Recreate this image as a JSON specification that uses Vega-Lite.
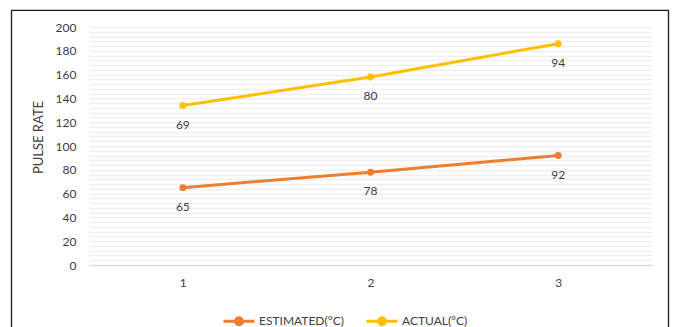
{
  "$schema": "https://vega.github.io/schema/vega-lite/v6.json",
  "width": 563,
  "height": 238,
  "autosize": {"type": "none"},
  "padding": {"left": 89, "top": 27, "right": 25, "bottom": 62},
  "background": "white",
  "config": {
    "view": {"stroke": null},
    "font": "Lato",
    "text": {"font": "Lato"}
  },
  "data": {
    "values": [
      {"reading": 1, "series": "ESTIMATED(°C)", "value": 65},
      {"reading": 2, "series": "ESTIMATED(°C)", "value": 78},
      {"reading": 3, "series": "ESTIMATED(°C)", "value": 92},
      {"reading": 1, "series": "ACTUAL(°C)", "value": 69},
      {"reading": 2, "series": "ACTUAL(°C)", "value": 80},
      {"reading": 3, "series": "ACTUAL(°C)", "value": 94}
    ]
  },
  "layer": [
    {
      "data": {"values": [{}]},
      "mark": {"type": "rect", "fill": null, "stroke": "#1a1a1a", "strokeWidth": 1.3, "clip": false},
      "encoding": {
        "x": {"datum": 0.087, "type": "quantitative", "scale": {"domain": [0.5, 3.5], "zero": false, "nice": false}},
        "x2": {"datum": 3.588},
        "y": {"datum": 213.9, "type": "quantitative", "scale": {"domain": [0, 200], "nice": false}},
        "y2": {"datum": -60}
      }
    },
    {
      "mark": {"type": "line", "strokeWidth": 3, "point": {"filled": true, "size": 48}},
      "encoding": {
        "x": {
          "field": "reading",
          "type": "quantitative",
          "scale": {"domain": [0.5, 3.5], "zero": false, "nice": false},
          "axis": {
            "values": [1, 2, 3],
            "tickCount": 3,
            "format": "d",
            "title": null,
            "grid": false,
            "ticks": false,
            "domain": true,
            "domainColor": "#d9d9d9",
            "domainWidth": 1,
            "labelPadding": 12,
            "labelFont": "Lato",
            "labelFontSize": 12,
            "labelColor": "#404040"
          }
        },
        "y": {
          "field": "value",
          "type": "quantitative",
          "stack": "zero",
          "scale": {"domain": [0, 200], "nice": false},
          "axis": {
            "values": [0, 4, 8, 12, 16, 20, 24, 28, 32, 36, 40, 44, 48, 52, 56, 60, 64, 68, 72, 76, 80, 84, 88, 92, 96, 100, 104, 108, 112, 116, 120, 124, 128, 132, 136, 140, 144, 148, 152, 156, 160, 164, 168, 172, 176, 180, 184, 188, 192, 196, 200],
            "tickCount": 60,
            "labelExpr": "datum.value % 20 === 0 ? datum.label : ''",
            "labelOverlap": false,
            "title": "PULSE RATE",
            "titleFont": "Lato",
            "titleFontSize": 13,
            "titleFontWeight": "normal",
            "titleColor": "#404040",
            "titleY": 110,
            "titlePadding": 10,
            "grid": true,
            "gridColor": "#f0f0f0",
            "gridWidth": 1.6,
            "ticks": false,
            "domain": false,
            "labelPadding": 13,
            "labelFont": "Lato",
            "labelFontSize": 12,
            "labelColor": "#404040"
          }
        },
        "color": {
          "field": "series",
          "type": "nominal",
          "scale": {"domain": ["ESTIMATED(°C)", "ACTUAL(°C)"], "range": ["#ED7D31", "#FFC000"]},
          "legend": {
            "title": null,
            "orient": "none",
            "direction": "horizontal",
            "legendX": 133,
            "legendY": 277,
            "symbolType": "M-1,0H1M-0.23,0A0.23,0.23 0 1,1 0.23,0A0.23,0.23 0 1,1 -0.23,0Z",
            "symbolSize": 961,
            "symbolStrokeWidth": 3,
            "labelOffset": 3,
            "columnPadding": 16,
            "labelFont": "Lato",
            "labelFontSize": 12,
            "labelColor": "#404040",
            "encode": {
              "symbols": {"update": {"fill": {"scale": "color", "field": "value"}}}
            }
          }
        }
      }
    },
    {
      "mark": {"type": "text", "dy": 19, "fontSize": 12, "color": "#404040", "font": "Lato"},
      "encoding": {
        "x": {"field": "reading", "type": "quantitative"},
        "y": {"field": "value", "type": "quantitative", "stack": "zero"},
        "detail": {"field": "series"},
        "order": {"field": "series", "sort": "descending"},
        "text": {"field": "value", "type": "quantitative"}
      }
    }
  ]
}
